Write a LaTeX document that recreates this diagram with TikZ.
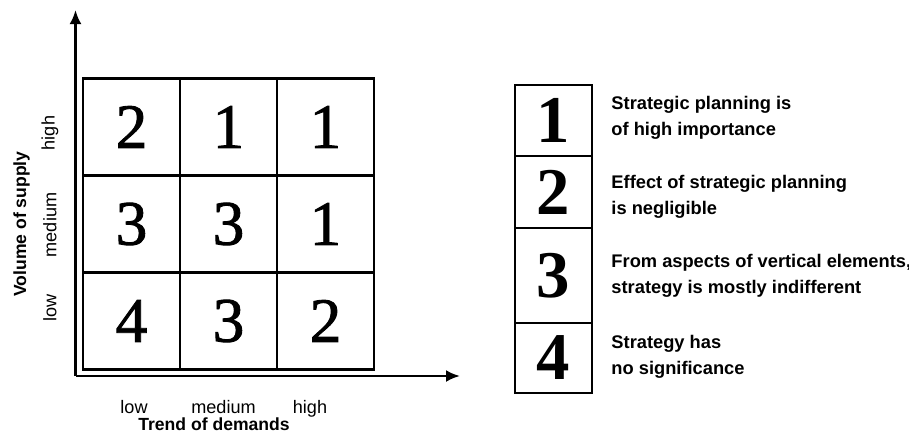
\documentclass[tikz,border=0pt]{standalone}
\usepackage{fontspec}
\setmainfont{Liberation Sans}
\newfontfamily\digitfont[FakeBold=1.4]{Liberation Serif}
\newfontfamily\keydigitfont{Liberation Serif}
\usepackage{tikz}
\usetikzlibrary{arrows.meta, positioning}
\tikzset{
  cell/.style={rectangle, draw=black, line width=1.3pt,
    minimum width=1.95cm, minimum height=1.94cm, inner sep=0pt,
    font=\digitfont\fontsize{36}{36}\selectfont},
  keycell/.style={rectangle, draw=black, line width=1.3pt,
    minimum width=1.54cm, inner sep=0pt,
    font=\keydigitfont\bfseries\fontsize{38}{38}\selectfont},
  keytext/.style={anchor=west, align=left, inner sep=0pt,
    font=\bfseries\fontsize{10.4}{15}\selectfont},
  ticklabel/.style={font=\fontsize{10.3}{12}\selectfont},
  axistitle/.style={font=\bfseries\fontsize{10}{12}\selectfont},
  axis/.style={-{Latex[length=0.28cm,width=0.24cm]}, line width=1.5pt, color=black}
}

\begin{document}
\begin{tikzpicture}
  \useasboundingbox (0,0) rectangle (18.18,8.82);
  % Axes
  \coordinate (origin) at (1.51,1.30);
  \coordinate (ytip) at (1.51,8.62);
  \coordinate (xtip) at (9.20,1.30);
  \draw[axis] (origin) -- (ytip);
  \draw[axis] (origin) -- (xtip);
  % Grid, top row
  \node (c11) at (2.63,6.28) [cell] {2};
  \node (c12) at (4.57,6.28) [cell] {1};
  \node (c13) at (6.51,6.28) [cell] {1};
  % Grid, middle row
  \node (c21) at (2.63,4.34) [cell] {3};
  \node (c22) at (4.57,4.34) [cell] {3};
  \node (c23) at (6.51,4.34) [cell] {1};
  % Grid, bottom row
  \node (c31) at (2.63,2.40) [cell] {4};
  \node (c32) at (4.57,2.40) [cell] {3};
  \node (c33) at (6.51,2.40) [cell] {2};
  % Supply labels
  \node (shigh) at (1.00,6.16) [rotate=90, ticklabel] {high};
  \node (smed) at (1.00,4.32) [rotate=90, ticklabel] {medium};
  \node (slow) at (1.00,2.66) [rotate=90, ticklabel] {low};
  \node (stitle) at (0.43,4.34) [rotate=90, axistitle] {Volume of supply};
  % Demand labels
  \node (dlow) at (2.68,0.56) [anchor=base, ticklabel] {low};
  \node (dmed) at (4.47,0.56) [anchor=base, ticklabel] {medium};
  \node (dhigh) at (6.20,0.56) [anchor=base, ticklabel] {high};
  \node (dtitle) at (4.28,0.22) [anchor=base, axistitle] {Trend of demands};
  % Key
  \node (k1) at (11.07,6.41) [keycell, minimum height=1.42cm] {1};
  \node (k2) at (11.07,4.98) [keycell, minimum height=1.44cm] {2};
  \node (k3) at (11.07,3.31) [keycell, minimum height=1.90cm] {3};
  \node (k4) at (11.07,1.66) [keycell, minimum height=1.40cm] {4};
  \node (t1) [keytext, right=0.36cm of k1, yshift=0.06cm] {Strategic planning is\\of high importance};
  \node (t2) [keytext, right=0.36cm of k2, yshift=-0.09cm] {Effect of strategic planning\\is negligible};
  \node (t3) [keytext, right=0.36cm of k3] {From aspects of vertical elements,\\strategy is mostly indifferent};
  \node (t4) [keytext, right=0.36cm of k4, yshift=0.03cm] {Strategy has\\no significance};
\end{tikzpicture}
\end{document}
